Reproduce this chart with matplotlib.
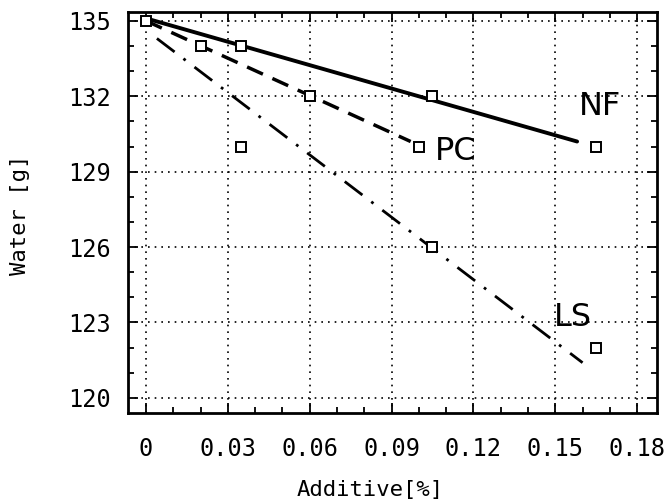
import matplotlib
matplotlib.use("Agg")
import matplotlib.pyplot as plt
from matplotlib.ticker import MultipleLocator

# measured points (open squares)
pts_x = [0.0, 0.02, 0.035, 0.035, 0.06, 0.1, 0.105, 0.105, 0.165, 0.165]
pts_y = [135, 134, 134, 130, 132, 130, 132, 126, 130, 122]

# fitted lines (end points)
nf_x = [0.0, 0.158]
nf_y = [135.1, 130.2]
pc_x = [0.0, 0.097]
pc_y = [135.0, 130.2]
ls_x = [0.004, 0.16]
ls_y = [134.3, 121.4]

xticks = [0, 0.03, 0.06, 0.09, 0.12, 0.15, 0.18]
xticklabels = ["0", "0.03", "0.06", "0.09", "0.12", "0.15", "0.18"]
yticks = [120, 123, 126, 129, 132, 135]

plt.rcParams["font.family"] = "DejaVu Sans Mono"

fig = plt.figure(figsize=(6.68, 5.03), dpi=100)
ax = fig.add_axes([0.1916, 0.179, 0.792, 0.797])

ax.plot(nf_x, nf_y, color="black", lw=2.8, solid_capstyle="round")
ax.plot(pc_x, pc_y, color="black", lw=2.5, linestyle=(0, (5, 3)))
ax.plot(ls_x, ls_y, color="black", lw=2.0, linestyle=(0, (8, 4, 1, 4)))
ax.plot(pts_x, pts_y, linestyle="none", marker="s", markersize=7.5,
        markerfacecolor="white", markeredgecolor="black", markeredgewidth=1.4)

ax.text(0.1665, 131.6, "NF", fontsize=23, family="DejaVu Sans", ha="center", va="center")
ax.text(0.1135, 129.8, "PC", fontsize=23, family="DejaVu Sans", ha="center", va="center")
ax.text(0.1565, 123.2, "LS", fontsize=23, family="DejaVu Sans", ha="center", va="center")

ax.set_xlim(-0.0066, 0.1873)
ax.set_ylim(119.4, 135.35)
ax.set_xticks(xticks)
ax.set_xticklabels(xticklabels)
ax.set_yticks(yticks)
ax.xaxis.set_minor_locator(MultipleLocator(0.01))
ax.yaxis.set_minor_locator(MultipleLocator(1))
ax.tick_params(which="both", direction="in", top=True, right=True, width=1.3)
ax.tick_params(which="major", length=7, labelsize=17)
ax.tick_params(axis="x", which="major", pad=17)
ax.tick_params(axis="y", which="major", pad=12)
ax.tick_params(which="minor", length=4)
ax.grid(True, which="major", color="black", linestyle=(0, (1, 3)), lw=1.2)
for s in ax.spines.values():
    s.set_linewidth(2)

ax.set_xlabel("Additive[%]", fontsize=16, va="center")
ax.set_ylabel("Water [g]", fontsize=16, va="center")
ax.xaxis.set_label_coords(0.457, -0.192)
ax.yaxis.set_label_coords(-0.205, 0.494)

fig.savefig("out.png", dpi=100)
